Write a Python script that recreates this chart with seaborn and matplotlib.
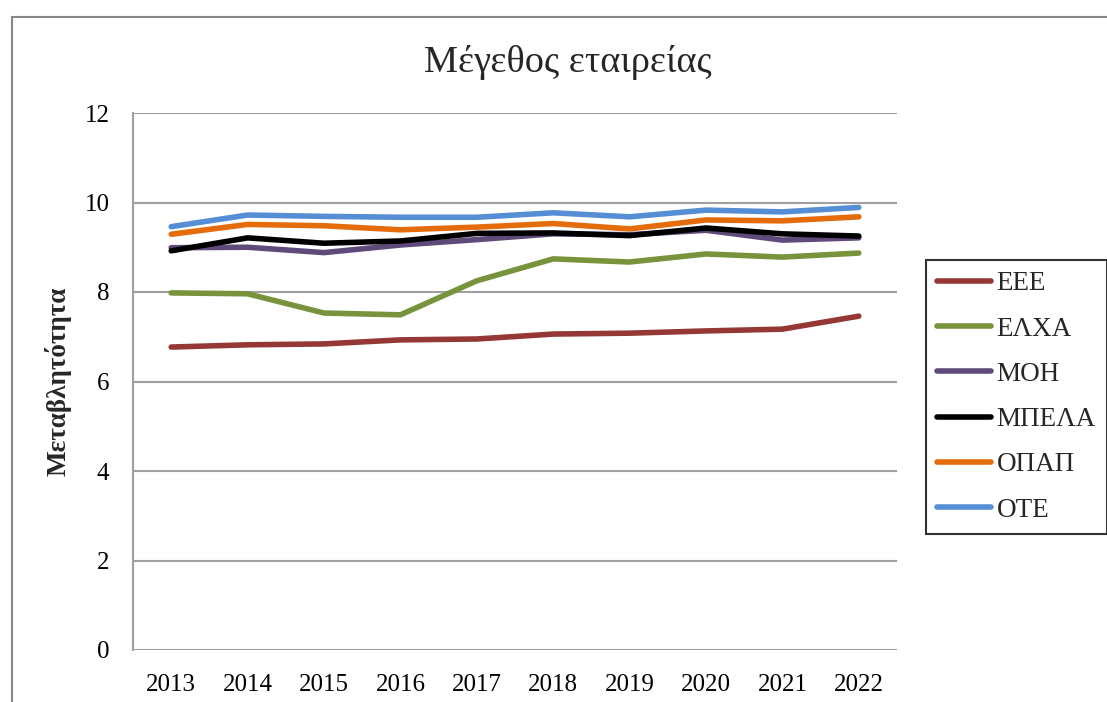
import matplotlib
matplotlib.use("Agg")
import matplotlib.pyplot as plt
import pandas as pd
import seaborn as sns
from matplotlib.patches import Rectangle

years = [2013, 2014, 2015, 2016, 2017, 2018, 2019, 2020, 2021, 2022]

eee = [6.77, 6.82, 6.84, 6.93, 6.95, 7.06, 7.08, 7.13, 7.17, 7.46]
elxa = [7.98, 7.96, 7.53, 7.49, 8.25, 8.74, 8.67, 8.85, 8.78, 8.87]
moh = [8.99, 9.00, 8.88, 9.05, 9.17, 9.30, 9.28, 9.38, 9.16, 9.21]
mpela = [8.92, 9.21, 9.09, 9.14, 9.31, 9.32, 9.26, 9.43, 9.30, 9.25]
opap = [9.29, 9.51, 9.48, 9.39, 9.45, 9.53, 9.41, 9.61, 9.59, 9.68]
ote = [9.46, 9.72, 9.69, 9.67, 9.67, 9.77, 9.68, 9.83, 9.79, 9.89]

companies = ["ΕΕΕ", "ΕΛΧΑ", "ΜΟΗ", "ΜΠΕΛΑ", "ΟΠΑΠ", "ΟΤΕ"]
colors = ["#953735", "#77933C", "#604A7B", "#000000", "#E46C0A", "#558ED5"]

series = [eee, elxa, moh, mpela, opap, ote]
df = pd.DataFrame(
    {
        "year": [str(y) for _ in companies for y in years],
        "company": [c for c in companies for _ in years],
        "value": [v for s in series for v in s],
    }
)

sns.set_theme(style="white")
plt.rcParams["font.family"] = ["Liberation Serif", "DejaVu Serif"]

fig = plt.figure(figsize=(11.07, 7.02), dpi=100)
ax = fig.add_axes([133 / 1107, 1 - 650 / 702, (897 - 133) / 1107, (650 - 113) / 702])

sns.lineplot(
    data=df,
    x="year",
    y="value",
    hue="company",
    palette=dict(zip(companies, colors)),
    linewidth=4,
    ax=ax,
    sort=False,
)
for line in ax.get_lines():
    line.set_solid_capstyle("round")

ax.set_xlim(-0.5, 9.5)
ax.set_ylim(0, 12)
ax.set_yticks(range(0, 13, 2))
ax.grid(axis="y", color="#a0a0a0", linewidth=1.5)
ax.set_axisbelow(True)
for side in ["top", "right", "bottom"]:
    ax.spines[side].set_visible(False)
ax.spines["left"].set_color("#a0a0a0")
ax.spines["left"].set_linewidth(1.5)
ax.tick_params(axis="both", labelsize=18, length=0, colors="black")
ax.tick_params(axis="y", pad=17)
ax.tick_params(axis="x", pad=17)
ax.set_xlabel("")
ax.set_ylabel("Μεταβλητότητα", fontsize=19.5, fontweight="bold", labelpad=9)

fig.text(568 / 1107, 1 - 62 / 702, "Μέγεθος εταιρείας", ha="center", va="center", fontsize=27.5)

handles, labels = ax.get_legend_handles_labels()
leg = ax.legend(
    handles,
    labels,
    loc="center left",
    bbox_to_anchor=(926 / 1107, 1 - 397 / 702),
    bbox_transform=fig.transFigure,
    frameon=True,
    fancybox=False,
    edgecolor="black",
    fontsize=19.5,
    handlelength=2.0,
    handletextpad=0.2,
    labelspacing=0.75,
    borderpad=0.4,
    borderaxespad=0,
)
leg.get_frame().set_linewidth(1.5)

# outer chart border (partly cut off in the screenshot)
fig.patches.append(
    Rectangle(
        (12 / 1107, -0.1),
        1.2,
        1.1 - 17 / 702,
        transform=fig.transFigure,
        fill=False,
        edgecolor="#888888",
        linewidth=1.5,
    )
)

fig.savefig("out.png", dpi=100)
